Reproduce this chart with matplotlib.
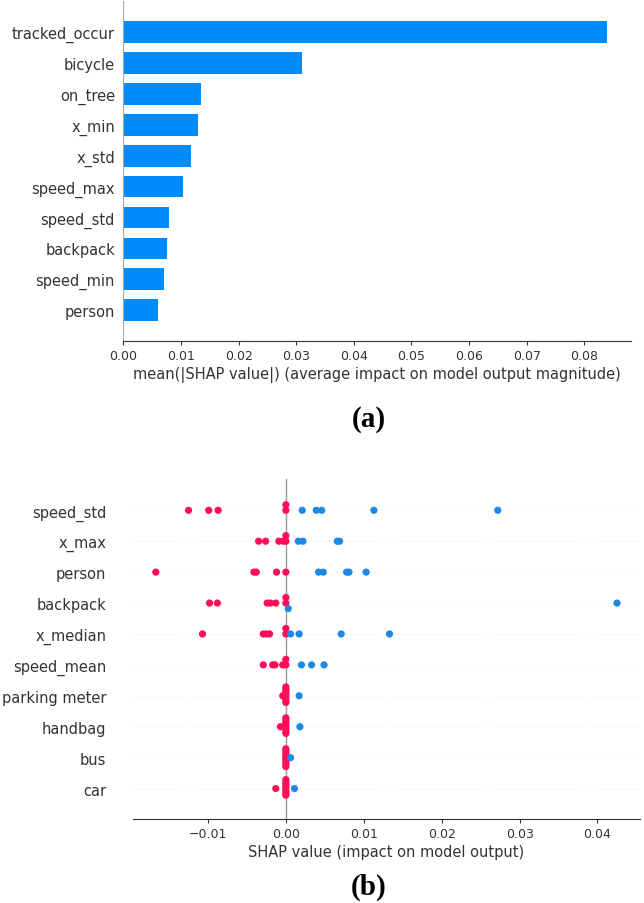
import numpy as np
import matplotlib
matplotlib.use("Agg")
import matplotlib.pyplot as plt

# --- (a) mean |SHAP| per feature, top to bottom ---
bar_features = ["tracked_occur", "bicycle", "on_tree", "x_min", "x_std",
                "speed_max", "speed_std", "backpack", "speed_min", "person"]
bar_values = [0.0839, 0.0310, 0.0135, 0.0130, 0.0117,
              0.0104, 0.0080, 0.0076, 0.0071, 0.0061]

# --- (b) per-sample SHAP values, split by feature value (high = red, low = blue) ---
dot_features = ["speed_std", "x_max", "person", "backpack", "x_median",
                "speed_mean", "parking meter", "handbag", "bus", "car"]

speed_std_high = [-0.0125, -0.0099, -0.0087, 0.0, 0.0]
speed_std_low = [0.0021, 0.0039, 0.0046, 0.0113, 0.0272]
x_max_high = [-0.0035, -0.0026, -0.0009, -0.0003, 0.0, 0.0]
x_max_low = [0.0016, 0.0022, 0.0066, 0.0069]
person_high = [-0.0167, -0.0041, -0.0038, -0.0012, 0.0]
person_low = [0.0042, 0.0048, 0.0078, 0.0081, 0.0103]
backpack_high = [-0.0098, -0.0088, -0.0024, -0.0020, -0.0013, 0.0, 0.0]
backpack_low = [0.0003, 0.0425]
x_median_high = [-0.0107, -0.0029, -0.0025, -0.0021, 0.0, 0.0]
x_median_low = [0.0006, 0.0017, 0.0071, 0.0133]
speed_mean_high = [-0.0029, -0.0017, -0.0014, -0.0004, 0.0, 0.0]
speed_mean_low = [0.0020, 0.0033, 0.0049]
parking_meter_high = [-0.0004, 0.0, 0.0, 0.0, 0.0, 0.0, 0.0, 0.0, 0.0]
parking_meter_low = [0.0017]
handbag_high = [-0.0007, 0.0, 0.0, 0.0, 0.0, 0.0, 0.0, 0.0, 0.0]
handbag_low = [0.0018]
bus_high = [0.0, 0.0, 0.0, 0.0, 0.0, 0.0, 0.0, 0.0, 0.0]
bus_low = [0.0006]
car_high = [-0.0013, 0.0, 0.0, 0.0, 0.0, 0.0, 0.0, 0.0, 0.0]
car_low = [0.0011]

dot_rows = [(speed_std_high, speed_std_low), (x_max_high, x_max_low),
            (person_high, person_low), (backpack_high, backpack_low),
            (x_median_high, x_median_low), (speed_mean_high, speed_mean_low),
            (parking_meter_high, parking_meter_low), (handbag_high, handbag_low),
            (bus_high, bus_low), (car_high, car_low)]

BLUE_BAR = "#008bfb"
BLUE = "#1e88e5"
RED = "#ff0d57"
AXIS = "#333333"


def swarm_offsets(vals, row_height=0.4, nbins=100):
    # same binning idea as shap's beeswarm: pile up points that share a bin
    vals = np.asarray(vals)
    span = vals.max() - vals.min() + 1e-8
    quant = np.round(nbins * (vals - vals.min()) / span)
    order = np.argsort(quant, kind="stable")
    ys = np.zeros(len(vals))
    layer, last = 0, None
    for i in order:
        if quant[i] != last:
            layer = 0
        ys[i] = np.ceil(layer / 2) * ((layer % 2) * 2 - 1)
        layer += 1
        last = quant[i]
    return ys * 0.9 * (row_height / np.max(ys + 1))


fig = plt.figure(figsize=(6.44, 9.04), dpi=100)

# ---------------- (a) bar chart ----------------
ax1 = fig.add_axes([0.1915, 0.6217, 0.7883, 0.3757])
ypos = np.arange(len(bar_features))[::-1]
ax1.barh(ypos, bar_values, 0.7, align="center", color=BLUE_BAR)
ax1.set_yticks(ypos)
ax1.set_yticklabels(bar_features, fontsize=10.5, color=AXIS)
ax1.set_ylim(-1, len(bar_features))
ax1.set_xlim(0, max(bar_values) * 1.05)
ax1.set_xticks(np.arange(0, 0.081, 0.01))
ax1.set_xticklabels([f"{t:.2f}" for t in np.arange(0, 0.081, 0.01)])
ax1.tick_params(axis="y", length=0, pad=6)
ax1.tick_params(axis="x", labelsize=9, colors=AXIS, length=3, pad=2.5)
ax1.spines["top"].set_visible(False)
ax1.spines["right"].set_visible(False)
ax1.spines["left"].set_color("#aaaaaa")
ax1.spines["bottom"].set_color(AXIS)
ax1.set_xlabel("mean(|SHAP value|) (average impact on model output magnitude)",
               fontsize=10.5, color=AXIS, labelpad=3)

fig.text(0.573, 1 - 420 / 904, "(a)", ha="center", va="center", fontsize=21,
         fontweight="bold", family="Liberation Serif")

# ---------------- (b) beeswarm ----------------
ax2 = fig.add_axes([0.2061, 0.0924, 0.7877, 0.3762])
ax2.axvline(0, color="#999999", lw=1.0, zorder=-1)
n = len(dot_features)
for k, (high, low) in enumerate(dot_rows):
    pos = n - 1 - k
    ax2.axhline(pos, color="#cccccc", lw=0.5, dashes=(1, 5), zorder=-1)
    vals = np.array(high + low)
    cols = [RED] * len(high) + [BLUE] * len(low)
    ys = pos + swarm_offsets(vals)
    ax2.scatter(vals, ys, s=27, c=cols, linewidths=0, zorder=3)

ax2.set_yticks(np.arange(n)[::-1])
ax2.set_yticklabels(dot_features, fontsize=10.5, color=AXIS)
ax2.set_ylim(-1, n)
ax2.tick_params(axis="y", length=0, pad=19)
ax2.tick_params(axis="x", labelsize=9, colors=AXIS, length=3, pad=2.5)
for s in ["top", "right", "left"]:
    ax2.spines[s].set_visible(False)
ax2.spines["bottom"].set_color(AXIS)
ax2.set_xlabel("SHAP value (impact on model output)", fontsize=10.5,
               color=AXIS, labelpad=3)

fig.text(0.573, 1 - 887 / 904, "(b)", ha="center", va="center", fontsize=21,
         fontweight="bold", family="Liberation Serif")

fig.savefig("out.png", dpi=100)
